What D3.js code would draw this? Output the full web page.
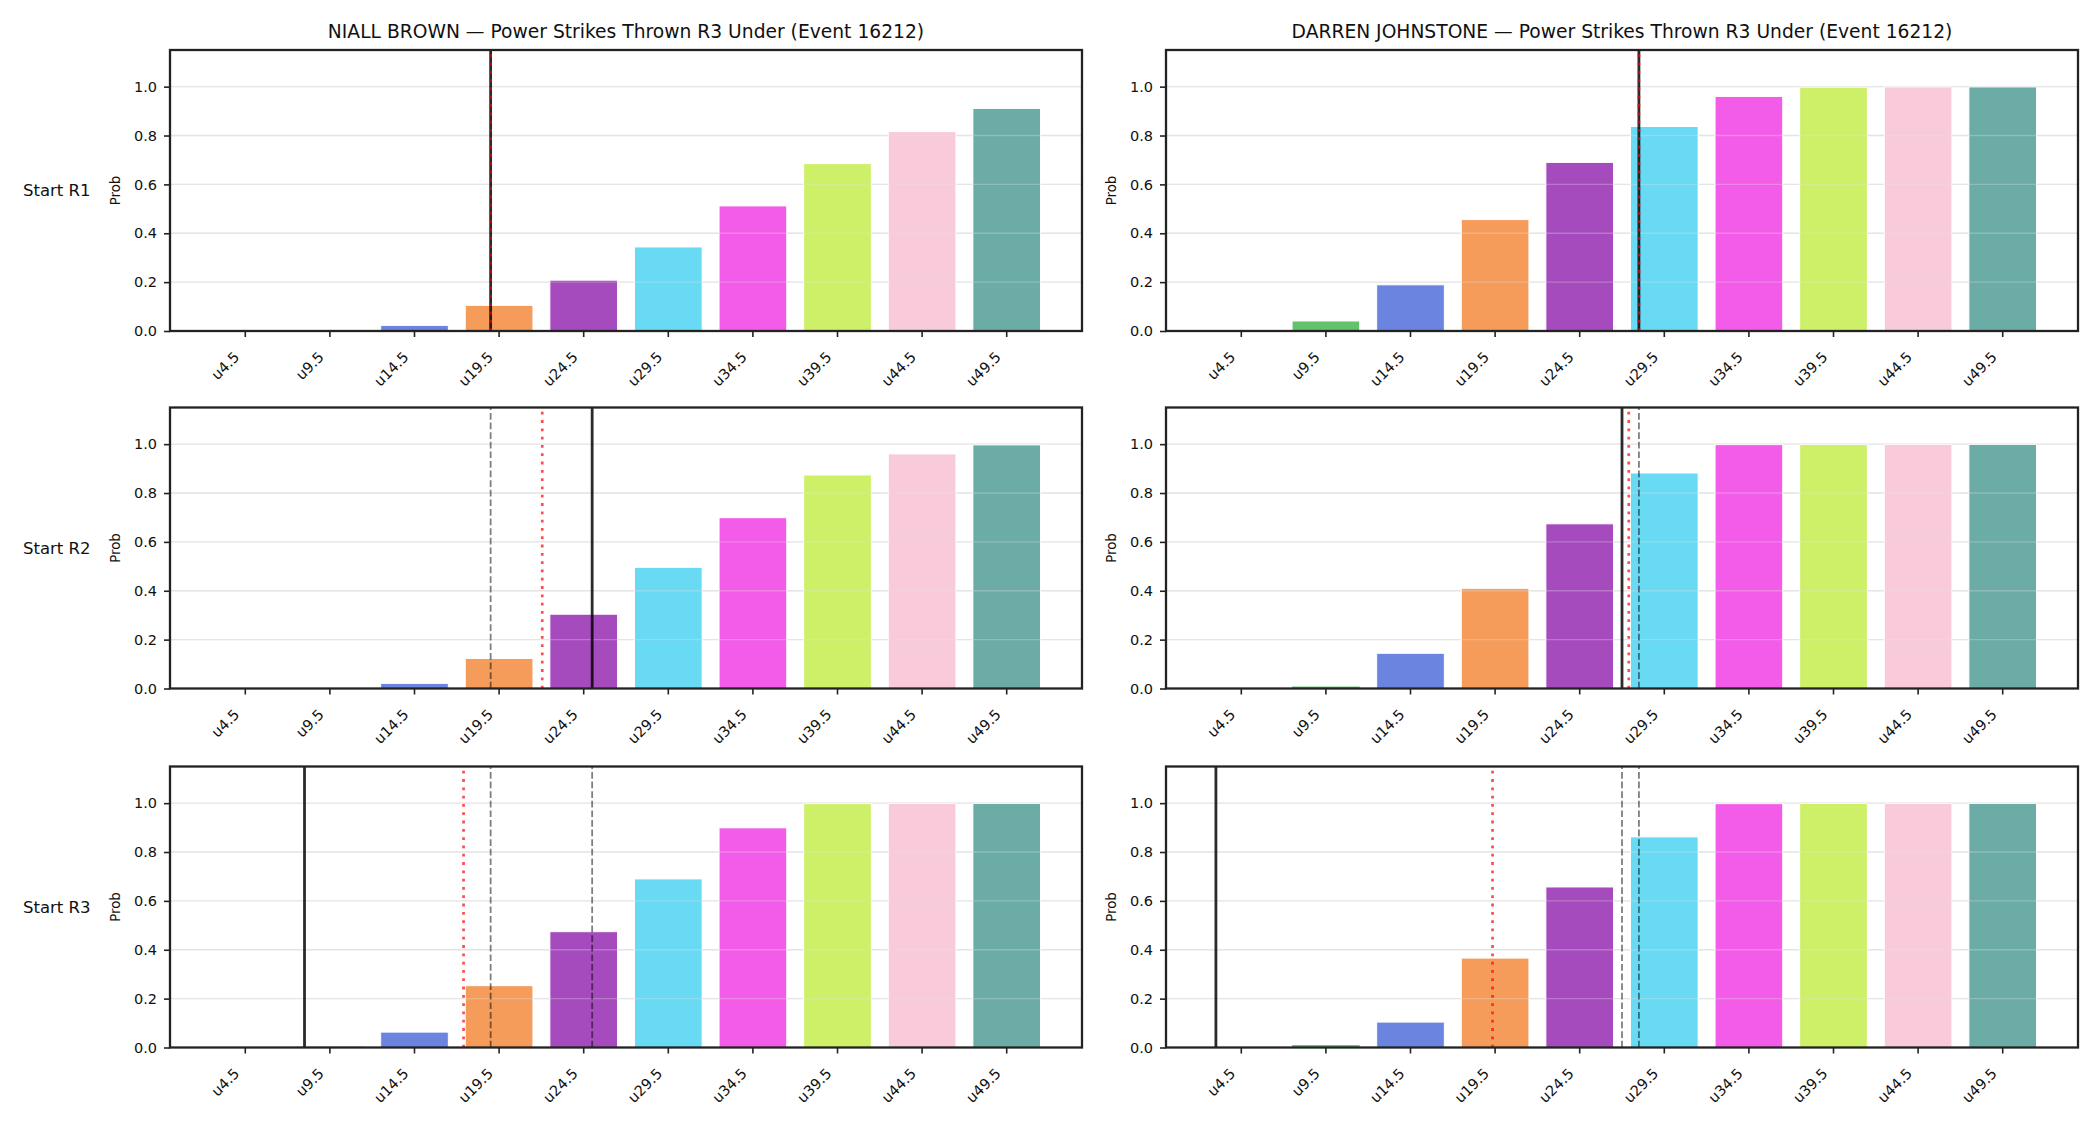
<!DOCTYPE html>
<html>
<head>
<meta charset="utf-8">
<script src="https://cdn.jsdelivr.net/npm/d3@7"></script>
<style>
    body { margin: 0; background: #fff; }
    text { font-family: "DejaVu Sans", sans-serif; fill: #111; }
</style>
</head>
<body>
<div id="chart"></div>
<script>
// Categories (under thresholds)
const thresholds = ["u4.5", "u9.5", "u14.5", "u19.5", "u24.5", "u29.5", "u34.5", "u39.5", "u44.5", "u49.5"];
const thresholdValues = [4.5, 9.5, 14.5, 19.5, 24.5, 29.5, 34.5, 39.5, 44.5, 49.5];
const barColors = ["#e8554e", "#63c26d", "#6b84e0", "#f59c5b", "#a54bbe", "#68daf4", "#f25ce8", "#cdf068", "#f9cada", "#6caca6"];
const yTicks = [0, 0.2, 0.4, 0.6, 0.8, 1.0];

const players = ["NIALL BROWN", "DARREN JOHNSTONE"];
const rowLabels = ["Start R1", "Start R2", "Start R3"];

// Probabilities per round (rows) for each player
const niallProbs = [
    [0, 0.003, 0.023, 0.105, 0.208, 0.344, 0.512, 0.685, 0.816, 0.911],
    [0, 0.001, 0.021, 0.123, 0.304, 0.496, 0.699, 0.874, 0.960, 0.997],
    [0, 0.003, 0.063, 0.253, 0.474, 0.690, 0.899, 0.998, 0.999, 0.999]
];
const darrenProbs = [
    [0, 0.041, 0.189, 0.456, 0.690, 0.837, 0.960, 0.998, 0.999, 0.999],
    [0, 0.008, 0.144, 0.410, 0.674, 0.882, 0.998, 0.999, 0.999, 0.999],
    [0, 0.010, 0.104, 0.366, 0.657, 0.862, 0.998, 0.999, 0.999, 0.999]
];

// Marker lines (in strike units)
const niallSolid = [19, 25, 8];
const niallRed = [19, 22.05, 17.4];
const niallDashed = [[], [19], [19, 25]];
const darrenSolid = [28, 27, 3];
const darrenRed = [28, 27.4, 19.35];
const darrenDashed = [[], [28], [27, 28]];

const WIDTH = 2100;
const HEIGHT = 1125;
const PANEL_LEFT = [170, 1166];
const PANEL_WIDTH = 912;
const ROW_TOP = [50, 407.5, 766.5];
const PANEL_HEIGHT = 281;

const svg = d3.select("#chart")
    .append("svg")
    .attr("width", WIDTH)
    .attr("height", HEIGHT);

const panels = [
    { name: players[0], probs: niallProbs, solid: niallSolid, red: niallRed, dashed: niallDashed },
    { name: players[1], probs: darrenProbs, solid: darrenSolid, red: darrenRed, dashed: darrenDashed }
];

panels.forEach((p, col) => {
    p.probs.forEach((vals, row) => {
        drawPanel(p, col, row, vals);
    });
});

// Row labels on the far left
rowLabels.forEach((lab, row) => {
    svg.append("text")
        .attr("x", 23)
        .attr("y", ROW_TOP[row] + PANEL_HEIGHT / 2)
        .attr("dominant-baseline", "central")
        .style("font-size", "16.5px")
        .text(lab);
});

function drawPanel(p, col, row, vals) {
    const left = PANEL_LEFT[col];
    const top = ROW_TOP[row];
    const g = svg.append("g").attr("transform", `translate(${left},${top})`);

    const x = d3.scaleBand()
        .domain(thresholds)
        .range([0, PANEL_WIDTH])
        .paddingInner(0.2)
        .paddingOuter(0.49);

    const y = d3.scaleLinear()
        .domain([0, 1.15])
        .range([PANEL_HEIGHT, 0]);

    // strike value -> position, using the band centres of the thresholds
    const xv = d3.scaleLinear()
        .domain([thresholdValues[0], thresholdValues[thresholdValues.length - 1]])
        .range([x(thresholds[0]) + x.bandwidth() / 2, x(thresholds[thresholds.length - 1]) + x.bandwidth() / 2]);

    // grid underneath
    g.selectAll(".grid")
        .data(yTicks.slice(1))
        .enter()
        .append("line")
        .attr("x1", 0)
        .attr("x2", PANEL_WIDTH)
        .attr("y1", d => y(d))
        .attr("y2", d => y(d))
        .attr("stroke", "#e6e6e6")
        .attr("stroke-width", 1.3);

    // bars
    g.selectAll(".bar")
        .data(vals)
        .enter()
        .append("rect")
        .attr("x", (d, i) => x(thresholds[i]))
        .attr("y", d => y(d))
        .attr("width", x.bandwidth())
        .attr("height", d => PANEL_HEIGHT - y(d))
        .attr("fill", (d, i) => barColors[i])
        .attr("stroke", "#fff")
        .attr("stroke-width", d => d > 0.01 ? 1 : 0);

    // faint grid over bars
    g.selectAll(".grid2")
        .data(yTicks.slice(1))
        .enter()
        .append("line")
        .attr("x1", 0)
        .attr("x2", PANEL_WIDTH)
        .attr("y1", d => y(d))
        .attr("y2", d => y(d))
        .attr("stroke", "#e6e6e6")
        .attr("stroke-opacity", 0.3)
        .attr("stroke-width", 1.3);

    // prior rounds, dashed
    g.selectAll(".dashed")
        .data(p.dashed[row])
        .enter()
        .append("line")
        .attr("x1", d => xv(d))
        .attr("x2", d => xv(d))
        .attr("y1", PANEL_HEIGHT)
        .attr("y2", 0)
        .attr("stroke", "#000")
        .attr("stroke-opacity", 0.5)
        .attr("stroke-width", 1.8)
        .attr("stroke-dasharray", "6.7,2.9");

    // solid line
    g.append("line")
        .attr("x1", xv(p.solid[row]))
        .attr("x2", xv(p.solid[row]))
        .attr("y1", PANEL_HEIGHT)
        .attr("y2", 0)
        .attr("stroke", "#000")
        .attr("stroke-opacity", 0.83)
        .attr("stroke-width", 2.8);

    // red dotted line
    g.append("line")
        .attr("x1", xv(p.red[row]))
        .attr("x2", xv(p.red[row]))
        .attr("y1", PANEL_HEIGHT)
        .attr("y2", 0)
        .attr("stroke", "red")
        .attr("stroke-opacity", 0.7)
        .attr("stroke-width", 2.7)
        .attr("stroke-dasharray", "2.8,5.5");

    // y axis
    const yAxis = g.append("g")
        .call(d3.axisLeft(y).tickValues(yTicks).tickFormat(d3.format(".1f")).tickSize(6).tickPadding(7));
    yAxis.select(".domain").remove();
    yAxis.selectAll("line").attr("stroke", "#222").attr("stroke-width", 1.6);
    yAxis.selectAll("text").style("font-size", "14.5px").attr("fill", "#111");

    // x axis
    const xAxis = g.append("g")
        .attr("transform", `translate(0,${PANEL_HEIGHT})`)
        .call(d3.axisBottom(x).tickSize(6));
    xAxis.select(".domain").remove();
    xAxis.selectAll("line").attr("stroke", "#222").attr("stroke-width", 1.6);
    xAxis.selectAll("text")
        .style("font-size", "14.5px")
        .attr("fill", "#111")
        .attr("text-anchor", "end")
        .attr("dy", null)
        .attr("y", 0)
        .attr("transform", "translate(-5,27) rotate(-45)");

    // frame
    g.append("rect")
        .attr("width", PANEL_WIDTH)
        .attr("height", PANEL_HEIGHT)
        .attr("fill", "none")
        .attr("stroke", "#222")
        .attr("stroke-width", 2.3);

    // y label
    g.append("text")
        .attr("transform", `translate(-55,${PANEL_HEIGHT / 2}) rotate(-90)`)
        .attr("text-anchor", "middle")
        .attr("dominant-baseline", "central")
        .style("font-size", "13.3px")
        .text("Prob");

    // title on top row only
    if (row === 0) {
        g.append("text")
            .attr("x", PANEL_WIDTH / 2)
            .attr("y", -12)
            .attr("text-anchor", "middle")
            .style("font-size", "18.7px")
            .text(`${p.name} — Power Strikes Thrown R3 Under (Event 16212)`);
    }
}
</script>
</body>
</html>
